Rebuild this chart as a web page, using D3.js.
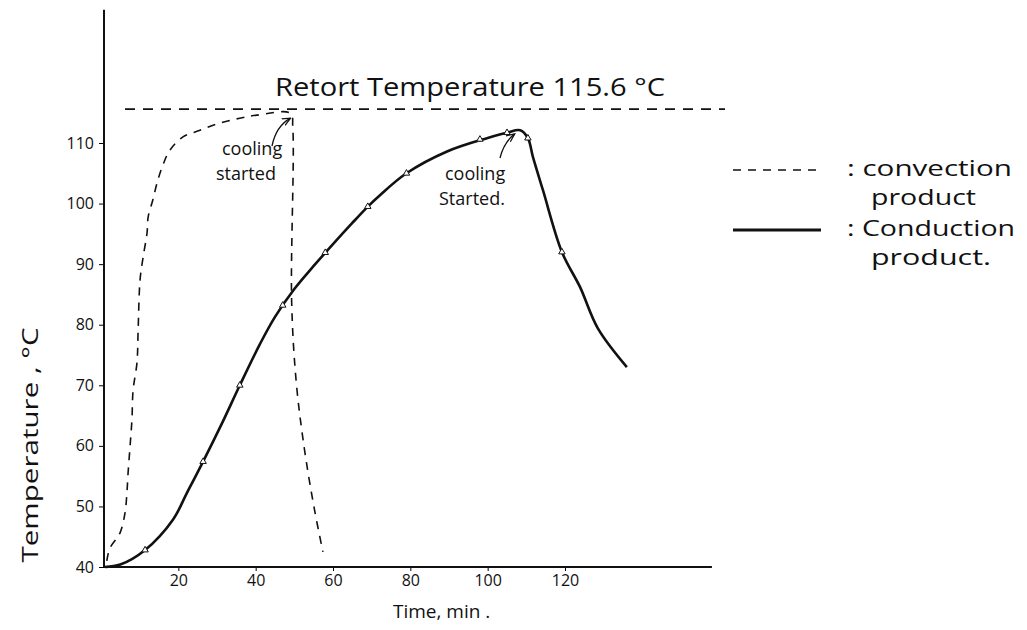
<!DOCTYPE html>
<html lang="en">
<meta charset="utf-8">
<title>Retort heat penetration</title>
<head>
<style>
  body { margin: 0; background: #fff; }
  text { font-family: "Open Sans", "DejaVu Sans", sans-serif; fill: #111; }
</style>
</head>
<body>
  <script src="https://d3js.org/d3.v7.min.js"></script>
  <div id="my_dataviz"></div>
  <script>

    // ---- data ----
    // convection product (dashed), time in min, temperature in degC
    var convTime = [1.5, 2.3, 4.9, 6.2, 6.7, 7.0, 7.5, 8.0, 8.3, 9.3, 9.6, 10.1, 10.9, 11.9, 12.2, 13.4, 14.5, 15.8, 17.8, 21.2, 25.6, 30.8, 35.9, 40.3, 49.0, 49.6, 49.3, 50.5, 52.6, 55.2, 57.4];
    var convTemp = [41.0, 43.1, 45.6, 48.9, 52.2, 55.5, 59.8, 64.3, 69.2, 73.7, 79.1, 87.4, 91.2, 95.1, 97.8, 100.6, 103.4, 106.0, 108.8, 111.0, 112.1, 113.3, 114.1, 114.6, 114.9, 112.5, 84.0, 70.5, 59.5, 49.5, 42.5];

    // conduction product (solid line)
    var condTime = [1, 5, 11.4, 18.6, 22.2, 26.4, 31.5, 35.9, 41.1, 45, 50, 55, 60, 65, 69, 72, 79, 89.5, 99.8, 105, 108.4, 110.4, 111.7, 114.3, 119.2, 123.9, 128.5, 136];
    var condTemp = [40, 40.4, 42.8, 47.8, 52.2, 57.4, 64.0, 70.0, 76.8, 81.3, 85.9, 89.7, 93.3, 96.8, 99.5, 101.3, 105.0, 108.6, 110.8, 111.7, 112.1, 110.8, 107.7, 102.2, 92.0, 86.2, 79.4, 73.0];
    // points where little measurement marks were drawn
    var markTime = [11.4, 26.4, 35.9, 47, 58, 69, 79, 98, 105, 110.4, 119.2];
    var markTemp = [42.8, 57.4, 70.0, 83.2, 91.9, 99.5, 105.0, 110.6, 111.7, 110.8, 92.0];

    var retortTemp = 115.6;
    var xTicks = [20, 40, 60, 80, 100, 120];
    var xTickLabels = ["20", "40", "60", "80", "100", "120"];
    var yTicks = [40, 50, 60, 70, 80, 90, 100, 110];

    var legendItems = [
      { dash: "8,7", width: 1.6, lines: [": convection", "product"], len: [165, 105] },
      { dash: null, width: 3, lines: [": Conduction", "product."], len: [168, 120] }
    ];

    // ---- page ----
    var W = 1027, H = 630;
    var svg = d3.select("#my_dataviz")
      .append("svg")
      .attr("width", W)
      .attr("height", H);

    var x = d3.scaleLinear().domain([0, 120]).range([101, 565]);
    var y = d3.scaleLinear().domain([40, 110]).range([567, 143]);

    // axes
    var yAxis = svg.append("g")
      .attr("transform", "translate(104,0)")
      .call(d3.axisLeft(y).tickValues(yTicks).tickSize(5).tickPadding(5));
    yAxis.select(".domain").remove();
    yAxis.selectAll("text").style("font-size", "16px").attr("fill", "#111");
    svg.append("line")
      .attr("x1", 104).attr("x2", 104)
      .attr("y1", y(40)).attr("y2", y(132))
      .attr("stroke", "#111").attr("stroke-width", 2);

    var xAxis = svg.append("g")
      .attr("transform", "translate(0," + y(40) + ")")
      .call(d3.axisBottom(x).tickValues(xTicks).tickSize(4).tickPadding(4)
        .tickFormat(function (d, i) { return xTickLabels[i]; }));
    xAxis.select(".domain").remove();
    xAxis.selectAll("text").style("font-size", "16px").attr("fill", "#111");
    svg.append("line")
      .attr("x1", 104).attr("x2", x(158))
      .attr("y1", y(40)).attr("y2", y(40))
      .attr("stroke", "#111").attr("stroke-width", 2);

    // axis titles
    svg.append("text")
      .attr("transform", "translate(38,445) rotate(-90)")
      .attr("text-anchor", "middle")
      .attr("textLength", 235)
      .attr("lengthAdjust", "spacingAndGlyphs")
      .style("font-size", "22px")
      .text("Temperature , °C");
    svg.append("text")
      .attr("x", 393).attr("y", 618)
      .style("font-size", "19px")
      .text("Time, min .");

    // retort temperature line
    svg.append("line")
      .attr("x1", 125).attr("x2", 725)
      .attr("y1", y(retortTemp)).attr("y2", y(retortTemp))
      .attr("stroke", "#111").attr("stroke-width", 1.6)
      .attr("stroke-dasharray", "10,8");
    svg.append("text")
      .attr("x", 275).attr("y", 96)
      .attr("textLength", 390)
      .attr("lengthAdjust", "spacingAndGlyphs")
      .style("font-size", "25px")
      .text("Retort Temperature  115.6 °C");

    var line = d3.line()
      .x(function (d) { return x(d[0]); })
      .y(function (d) { return y(d[1]); })
      .curve(d3.curveCatmullRom.alpha(0.5));

    // convection curve
    svg.append("path")
      .datum(d3.zip(convTime, convTemp))
      .attr("fill", "none")
      .attr("stroke", "#111")
      .attr("stroke-width", 1.6)
      .attr("stroke-dasharray", "8,7")
      .attr("d", line);

    // conduction curve
    svg.append("path")
      .datum(d3.zip(condTime, condTemp))
      .attr("fill", "none")
      .attr("stroke", "#111")
      .attr("stroke-width", 2.6)
      .attr("d", line);

    svg.selectAll(".mark")
      .data(d3.zip(markTime, markTemp))
      .enter().append("path")
      .attr("class", "mark")
      .attr("transform", function (d) { return "translate(" + x(d[0]) + "," + y(d[1]) + ")"; })
      .attr("d", d3.symbol().type(d3.symbolTriangle).size(18))
      .attr("fill", "#fff")
      .attr("stroke", "#111")
      .attr("stroke-width", 1);

    // "cooling started" notes with arrows
    svg.append("defs").append("marker")
      .attr("id", "arrow")
      .attr("viewBox", "0 0 10 10")
      .attr("refX", 9).attr("refY", 5)
      .attr("markerWidth", 7).attr("markerHeight", 7)
      .attr("orient", "auto")
      .append("path")
      .attr("d", "M0,1 L9,5 L0,9")
      .attr("fill", "none").attr("stroke", "#111").attr("stroke-width", 1.4);

    var notes = [
      { x: 222, y: 155, lines: ["cooling", "started"], ax: [272, 146], at: [x(49), y(114.6) + 3] },
      { x: 445, y: 180, lines: ["cooling", "Started."], ax: [500, 158], at: [x(107), y(112) + 3] }
    ];
    notes.forEach(function (n) {
      var t = svg.append("text")
        .attr("x", n.x).attr("y", n.y)
        .style("font-size", "18px");
      t.append("tspan").attr("x", n.x).text(n.lines[0]);
      t.append("tspan").attr("x", n.x - 6).attr("dy", 25).text(n.lines[1]);
      svg.append("path")
        .attr("d", "M" + n.ax[0] + "," + n.ax[1] + " Q" + (n.ax[0] + 4) + "," + (n.at[1] + 8) + " " + n.at[0] + "," + n.at[1])
        .attr("fill", "none").attr("stroke", "#111").attr("stroke-width", 1.3)
        .attr("marker-end", "url(#arrow)");
    });

    // legend
    var lg = svg.append("g").attr("transform", "translate(733,170)");
    legendItems.forEach(function (it, i) {
      var g = lg.append("g").attr("transform", "translate(0," + (i * 60) + ")");
      g.append("line")
        .attr("x1", 0).attr("x2", 88)
        .attr("stroke", "#111").attr("stroke-width", it.width)
        .attr("stroke-dasharray", it.dash);
      g.append("text").attr("x", 114).attr("y", 6)
        .attr("textLength", it.len[0])
        .attr("lengthAdjust", "spacingAndGlyphs")
        .style("font-size", "21px")
        .text(it.lines[0]);
      g.append("text").attr("x", 138).attr("y", 35)
        .attr("textLength", it.len[1])
        .attr("lengthAdjust", "spacingAndGlyphs")
        .style("font-size", "21px")
        .text(it.lines[1]);
    });

  </script>
</body>
</html>
